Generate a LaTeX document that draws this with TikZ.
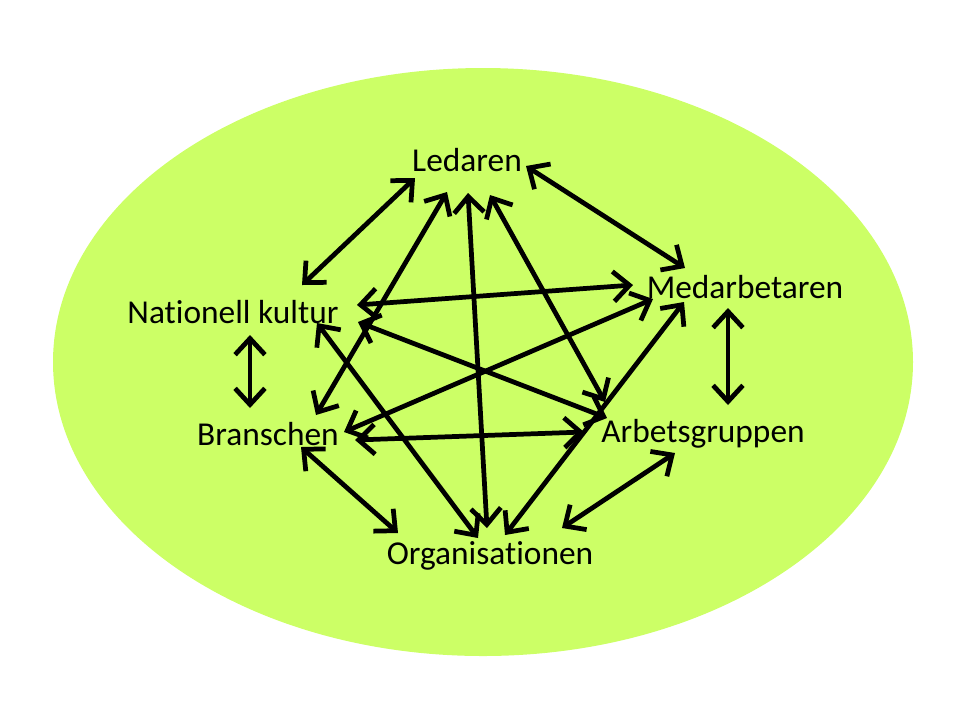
\documentclass[tikz,border=0pt]{standalone}
\usepackage{fontspec}
\setmainfont{Carlito}[Ligatures=CommonOff]
\usetikzlibrary{arrows.meta}

\definecolor{lime}{HTML}{CCFF66}

\begin{document}
\begin{tikzpicture}[x=0.1mm,y=-0.1mm,
  lbl/.style={inner sep=0pt,font=\fontsize{9.5}{11}\selectfont},
  link/.style={line width=1.35pt,{Straight Barb[length=4.6pt,width=8.5pt]}-{Straight Barb[length=4.6pt,width=8.5pt]}}]
  \useasboundingbox (0,0) rectangle (960,720);

\fill[lime] (483,362) ellipse [x radius=430, y radius=294];

\node[lbl] (led) at (467,160) {Ledaren};
\node[lbl] (med) at (745,287) {Medarbetaren};
\node[lbl] (nat) at (233,312) {Nationell kultur};
\node[lbl] (bra) at (268,434) {Branschen};
\node[lbl] (arb) at (703,434) {Arbetsgruppen};
\node[lbl] (org) at (490,556) {Organisationen};

% outer ring
\draw[link] ([shift={(-52,18)}]led.center) -- ([shift={(69,-27)}]nat.center);
\draw[link] ([shift={(59,6)}]led.center) -- ([shift={(-60,-19)}]med.center);
\draw[link] ([shift={(17,23)}]nat.center) -- ([shift={(17,-26)}]nat.center |- bra.center);
\draw[link] ([shift={(-17,21)}]med.center) -- ([shift={(25,-29)}]arb.center);
\draw[link] ([shift={(33,13)}]bra.center) -- ([shift={(-92,-23)}]org.center);
\draw[link] ([shift={(-28,19)}]arb.center) -- ([shift={(72,-28)}]org.center);

% from Ledaren
\draw[link] ([shift={(-20,32)}]led.center) -- ([shift={(48,-19)}]bra.center);
\draw[link] ([shift={(1,33)}]led.center) -- ([shift={(-3,-28)}]org.center);
\draw[link] ([shift={(23,35)}]led.center) -- ([shift={(-98,-32)}]arb.center);

% crossing lines
\draw[link] ([shift={(124,-7)}]nat.center) -- ([shift={(-112,-2)}]med.center);
\draw[link] ([shift={(125,10)}]nat.center) -- ([shift={(-96,-16)}]arb.center);
\draw[link] ([shift={(84,11)}]nat.center) -- ([shift={(-12,-18)}]org.center);
\draw[link] ([shift={(76,-2)}]bra.center) -- ([shift={(-92,12)}]med.center);
\draw[link] ([shift={(87,6)}]bra.center) -- ([shift={(-119,-2)}]arb.center);
\draw[link] ([shift={(-61,15)}]med.center) -- ([shift={(15,-21)}]org.center);

\end{tikzpicture}
\end{document}
